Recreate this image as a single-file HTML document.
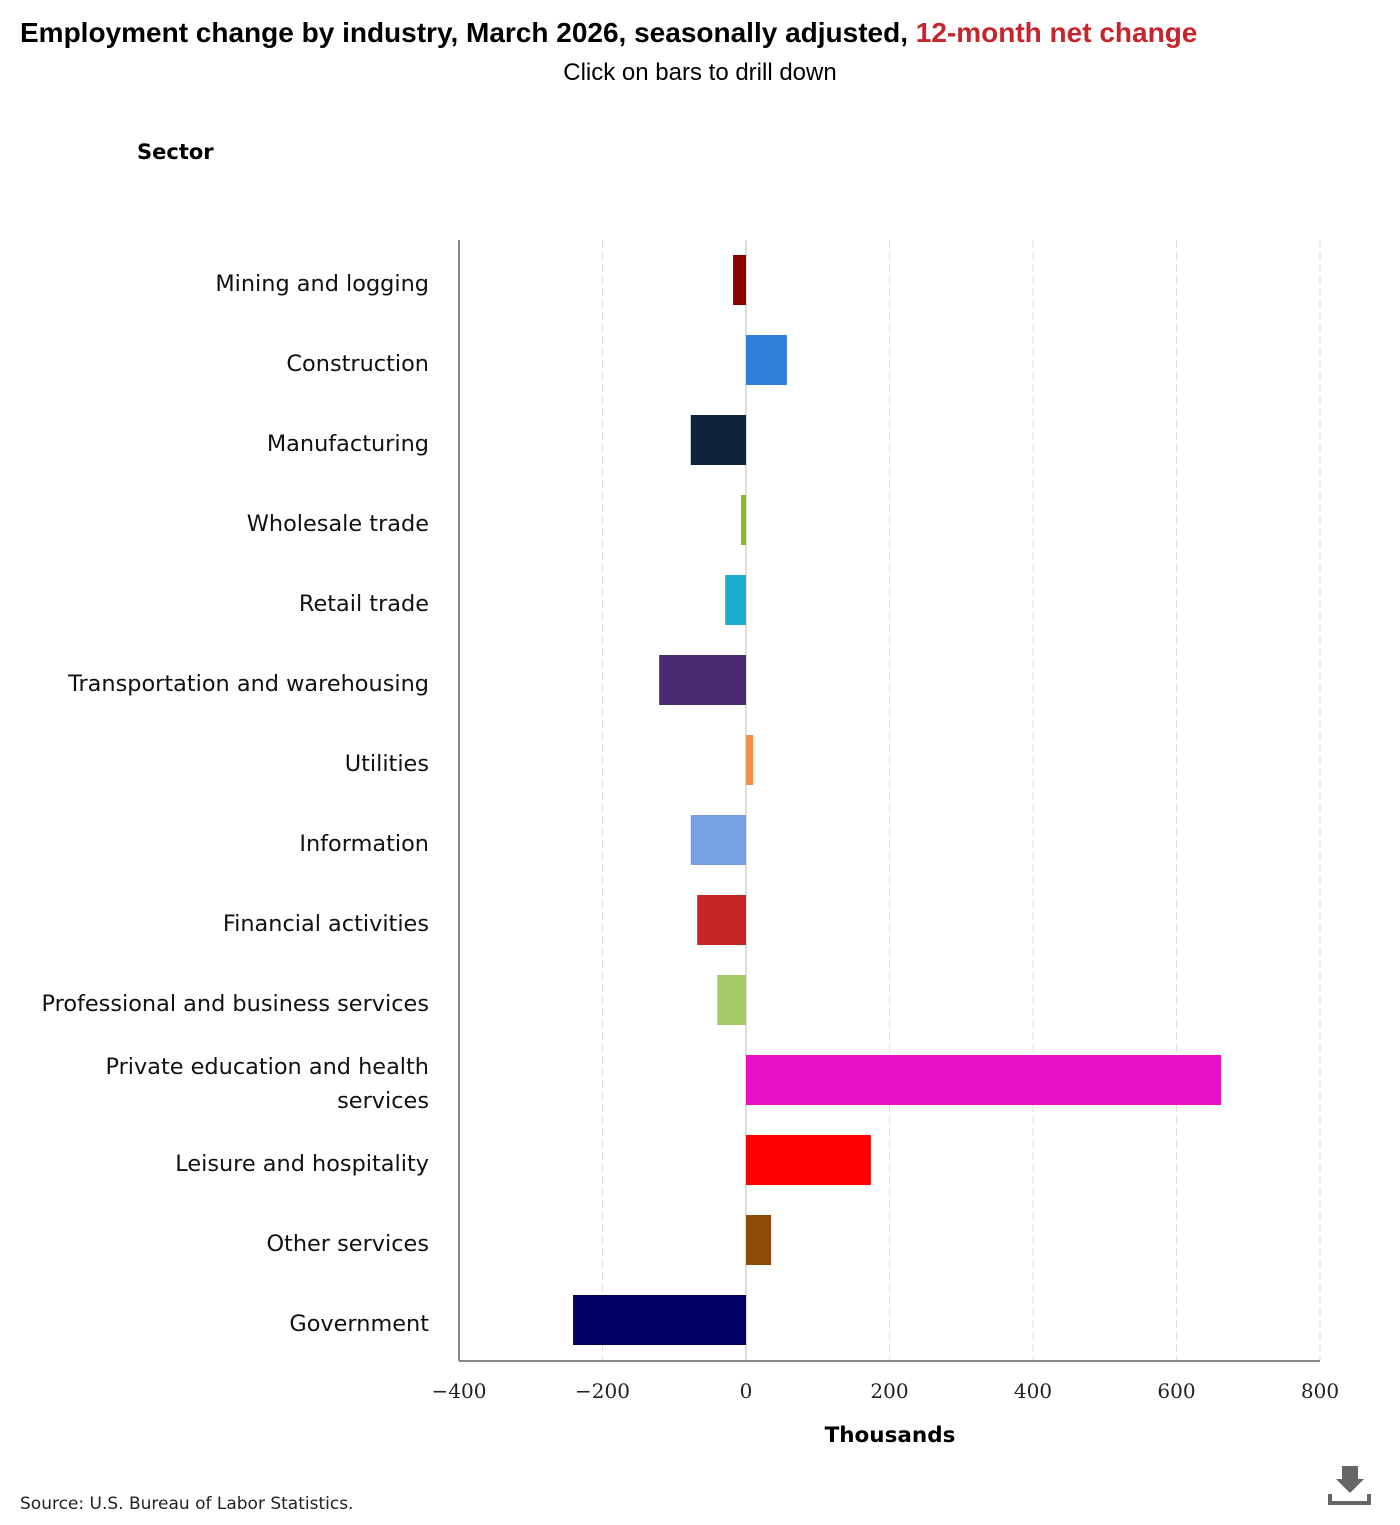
<!DOCTYPE html>
<html><head><meta charset="utf-8">
<style>
body{margin:0;background:#fff;width:1400px;height:1520px;overflow:hidden;font-family:"Liberation Sans",sans-serif;}
</style></head>
<body>
<svg width="1400" height="1520" xmlns="http://www.w3.org/2000/svg">
<text x="20" y="42" font-family="Liberation Sans, sans-serif" font-size="28" font-weight="bold" fill="#000">Employment change by industry, March 2026, seasonally adjusted, <tspan fill="#c4262e">12-month net change</tspan></text>
<text x="700" y="80" text-anchor="middle" font-size="24" fill="#000">Click on bars to drill down</text>
<text x="137" y="159" font-family="DejaVu Sans, sans-serif" font-size="21" font-weight="bold" fill="#000">Sector</text>
<g id="grid"></g>
<g id="bars"></g>
<g id="labels"></g>
<g id="ticks"></g>
<line x1="459" y1="240" x2="459" y2="1361" stroke="#888" stroke-width="2"/>
<line x1="459" y1="1361" x2="1320" y2="1361" stroke="#888" stroke-width="2"/>
<text x="890" y="1442" text-anchor="middle" font-family="DejaVu Sans, sans-serif" font-size="21.5" font-weight="bold">Thousands</text>
<text x="20" y="1509" font-family="DejaVu Sans, sans-serif" font-size="17" fill="#222">Source: U.S. Bureau of Labor Statistics.</text>
<g>
<rect x="1342" y="1466" width="16" height="14" fill="#666"/>
<polygon points="1336,1479 1364,1479 1350,1493" fill="#666"/>
<path d="M1330 1494 V1503 H1369 V1494" stroke="#666" stroke-width="4" fill="none"/>
</g>
</svg>
<script>
const categories=[["Mining and logging"],["Construction"],["Manufacturing"],["Wholesale trade"],["Retail trade"],["Transportation and warehousing"],["Utilities"],["Information"],["Financial activities"],["Professional and business services"],["Private education and health","services"],["Leisure and hospitality"],["Other services"],["Government"]];
const values=[-18,57,-77,-7,-29,-121,10,-77,-68,-40,662,174,35,-241];
const colors=["#8b0000","#2f7ed8","#0d233a","#8bbc21","#1aadce","#492970","#f28f43","#77a1e5","#c42525","#a6c96a","#e80fc9","#ff0000","#8b4c0a","#000066"];
const ticks=[-400,-200,0,200,400,600,800];
const NS="http://www.w3.org/2000/svg";
const xMin=-400,xMax=800,pL=459,pR=1320,top0=240,band=80;
const x=v=>pL+(v-xMin)/(xMax-xMin)*(pR-pL);
const y=i=>top0+i*band;
function mk(t,a,p){const e=document.createElementNS(NS,t);for(const k in a)e.setAttribute(k,a[k]);document.getElementById(p).appendChild(e);return e;}
ticks.forEach(t=>{
  if(t!==xMin){const l=mk("line",{x1:x(t),x2:x(t),y1:top0,y2:1360,stroke:t===0?"#bbb":"#ddd","stroke-width":1,"stroke-dasharray":t===0?"none":"8,4"},"grid");
  
  }
  const tx=mk("text",{x:x(t),y:1398,"text-anchor":"middle","font-family":"DejaVu Serif, serif","font-size":20,fill:"#222"},"ticks");
  tx.textContent=t<0?"\u2212"+(-t):String(t);
  
  
});
categories.forEach((c,i)=>{
  const v=values[i];
  const r=mk("rect",{x:Math.min(x(0),x(v)),y:y(i)+15,width:Math.abs(x(v)-x(0)),height:50,fill:colors[i],style:"cursor:pointer"},"bars");
  
  
  const cy=y(i)+40;
  c.forEach((line,j)=>{
    const ly=c.length===1?cy+11:cy+11+(j-0.5)*34;
    const tx=mk("text",{x:429,y:ly,"text-anchor":"end","font-family":"DejaVu Sans, sans-serif","font-size":22.4,fill:"#111"},"labels");
    tx.textContent=line;
    
    
  });
});
</script>
</body></html>
